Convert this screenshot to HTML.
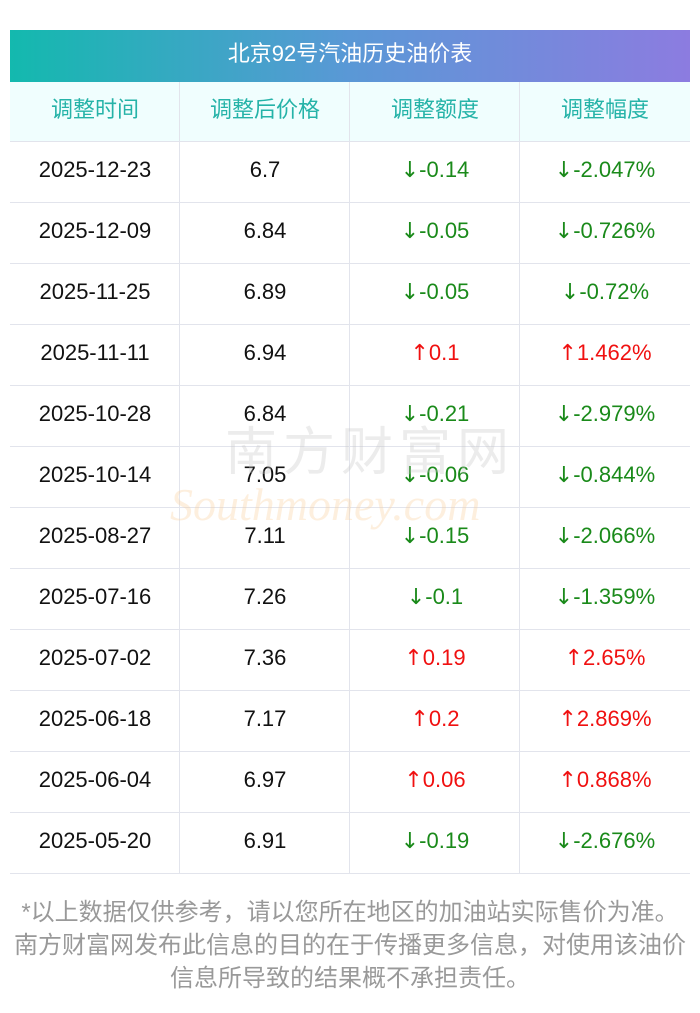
<!DOCTYPE html>
<html><head><meta charset="utf-8"><style>
body{margin:0;width:700px;height:1013px;background:#fff;font-family:"Liberation Sans","Noto Sans CJK SC",sans-serif;position:relative;overflow:hidden}
.title{position:absolute;left:10px;top:30px;width:680px;height:52px;background:linear-gradient(90deg,#13b9ae,#5a98d6,#8c7ce0);color:#fff;font-size:22px;text-align:center;line-height:48px}
.hdr{position:absolute;left:10px;top:82px;width:680px;height:60px;background:#f0fefe}
.row{position:absolute;left:10px;width:680px;height:61px;border-bottom:1px solid #e2e4ec;box-sizing:border-box}
.row div,.hdr div{position:absolute;top:0;width:170px;text-align:center}
.row div{line-height:56px;font-size:22px;color:#111}
.hdr div{line-height:56px;font-size:22px;color:#25b3a8}
.c0{left:0}.c1{left:170px}.c2{left:340px}.c3{left:510px}
.v{position:absolute;top:82px;width:1px;height:792px;background:#e2e4ec}
.row div.d{color:#1a8a1a}.row div.u{color:#f01010}
.a{font-family:"DejaVu Sans",sans-serif}
.foot{position:absolute;left:0;top:896px;width:700px;text-align:center;color:#999;font-size:24px;line-height:33px}
.wm{position:absolute;left:225px;top:410px;font-size:52px;color:rgba(200,200,200,0.35);letter-spacing:6px}
.wm2{position:absolute;left:170px;top:478px;font-size:46px;font-style:italic;font-family:"Liberation Serif",serif;color:rgba(250,210,160,0.35)}
</style></head><body>
<div class="title">北京92号汽油历史油价表</div>
<div class="hdr" style="border-bottom:1px solid #e2e4ec;box-sizing:border-box"><div class="c0">调整时间</div><div class="c1">调整后价格</div><div class="c2">调整额度</div><div class="c3">调整幅度</div></div>
<div class="row" style="top:142px"><div class="c0">2025-12-23</div><div class="c1">6.7</div><div class="c2 d"><span class="a">↓</span>-0.14</div><div class="c3 d"><span class="a">↓</span>-2.047%</div></div>
<div class="row" style="top:203px"><div class="c0">2025-12-09</div><div class="c1">6.84</div><div class="c2 d"><span class="a">↓</span>-0.05</div><div class="c3 d"><span class="a">↓</span>-0.726%</div></div>
<div class="row" style="top:264px"><div class="c0">2025-11-25</div><div class="c1">6.89</div><div class="c2 d"><span class="a">↓</span>-0.05</div><div class="c3 d"><span class="a">↓</span>-0.72%</div></div>
<div class="row" style="top:325px"><div class="c0">2025-11-11</div><div class="c1">6.94</div><div class="c2 u"><span class="a">↑</span>0.1</div><div class="c3 u"><span class="a">↑</span>1.462%</div></div>
<div class="row" style="top:386px"><div class="c0">2025-10-28</div><div class="c1">6.84</div><div class="c2 d"><span class="a">↓</span>-0.21</div><div class="c3 d"><span class="a">↓</span>-2.979%</div></div>
<div class="row" style="top:447px"><div class="c0">2025-10-14</div><div class="c1">7.05</div><div class="c2 d"><span class="a">↓</span>-0.06</div><div class="c3 d"><span class="a">↓</span>-0.844%</div></div>
<div class="row" style="top:508px"><div class="c0">2025-08-27</div><div class="c1">7.11</div><div class="c2 d"><span class="a">↓</span>-0.15</div><div class="c3 d"><span class="a">↓</span>-2.066%</div></div>
<div class="row" style="top:569px"><div class="c0">2025-07-16</div><div class="c1">7.26</div><div class="c2 d"><span class="a">↓</span>-0.1</div><div class="c3 d"><span class="a">↓</span>-1.359%</div></div>
<div class="row" style="top:630px"><div class="c0">2025-07-02</div><div class="c1">7.36</div><div class="c2 u"><span class="a">↑</span>0.19</div><div class="c3 u"><span class="a">↑</span>2.65%</div></div>
<div class="row" style="top:691px"><div class="c0">2025-06-18</div><div class="c1">7.17</div><div class="c2 u"><span class="a">↑</span>0.2</div><div class="c3 u"><span class="a">↑</span>2.869%</div></div>
<div class="row" style="top:752px"><div class="c0">2025-06-04</div><div class="c1">6.97</div><div class="c2 u"><span class="a">↑</span>0.06</div><div class="c3 u"><span class="a">↑</span>0.868%</div></div>
<div class="row" style="top:813px"><div class="c0">2025-05-20</div><div class="c1">6.91</div><div class="c2 d"><span class="a">↓</span>-0.19</div><div class="c3 d"><span class="a">↓</span>-2.676%</div></div>
<div class="v" style="left:179px"></div><div class="v" style="left:349px"></div><div class="v" style="left:519px"></div>
<div class="wm">南方财富网</div>
<div class="wm2">Southmoney.com</div>
<div class="foot">*以上数据仅供参考，请以您所在地区的加油站实际售价为准。<br>南方财富网发布此信息的目的在于传播更多信息，对使用该油价<br>信息所导致的结果概不承担责任。</div>
</body></html>
